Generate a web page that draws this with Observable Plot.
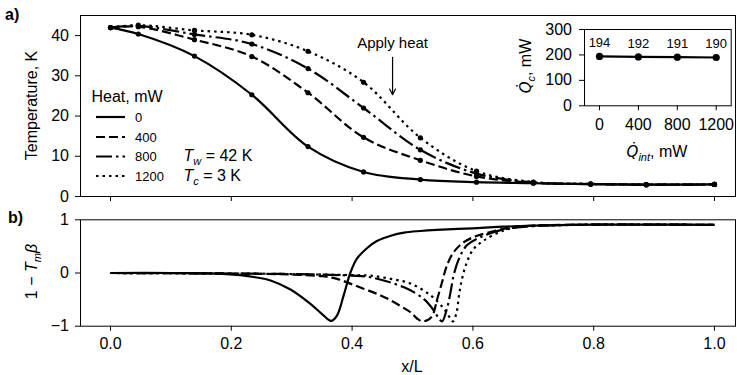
<!DOCTYPE html>
<html><head><meta charset="utf-8">
<script src="https://cdn.jsdelivr.net/npm/d3@7"></script>
<script src="https://cdn.jsdelivr.net/npm/@observablehq/plot@0.6"></script>
<style>
body{margin:0;background:#fff;}
#chart{position:relative;width:737px;height:375px;overflow:hidden;background:#fff;font-family:"Liberation Sans",Arial,sans-serif;}
#chart svg{position:absolute;overflow:visible;}
</style></head><body><div id="chart"></div>
<script>
// ---------- data ----------
const heatLevels = [0, 400, 800, 1200];
const heatLabels = ["0", "400", "800", "1200"];

// panel a) temperature profiles (marker positions)
const xPos = [0, 0.046, 0.139, 0.234, 0.327, 0.419, 0.513, 0.606, 0.700, 0.795, 0.887, 1.0];
const temp0    = [42, 40.4, 34.9, 25.3, 12.4, 6.1, 4.2, 3.55, 3.3, 3.05, 2.95, 3.0];
const temp400  = [42, 42.2, 39.0, 34.8, 25.8, 14.7, 9.0, 5.0, 3.4, 3.1, 2.95, 3.0];
const temp800  = [42, 42.4, 40.3, 37.9, 31.8, 22.0, 11.6, 5.7, 3.5, 3.1, 2.95, 3.0];
const temp1200 = [42, 42.6, 41.3, 40.2, 36.1, 28.4, 14.6, 6.3, 3.6, 3.15, 2.95, 3.0];

// panel b) 1 - Tm*beta
const b0x = [0, 0.1, 0.18, 0.215, 0.24, 0.265, 0.298, 0.331, 0.353, 0.365, 0.375, 0.386, 0.397, 0.408, 0.425, 0.441, 0.464, 0.486, 0.513, 0.54, 0.6, 0.65, 0.7, 0.8, 0.9, 1.0];
const b0v = [0, 0, -0.01, -0.04, -0.08, -0.14, -0.31, -0.58, -0.80, -0.90, -0.80, -0.42, 0.0, 0.27, 0.47, 0.60, 0.70, 0.76, 0.79, 0.81, 0.84, 0.87, 0.89, 0.91, 0.91, 0.905];
const b400x = [0, 0.2, 0.3, 0.35, 0.375, 0.397, 0.42, 0.441, 0.46, 0.48, 0.497, 0.508, 0.516, 0.526, 0.533, 0.541, 0.549, 0.557, 0.568, 0.585, 0.607, 0.64, 0.662, 0.7, 0.8, 0.9, 1.0];
const b400v = [0, -0.01, -0.03, -0.06, -0.11, -0.2, -0.3, -0.39, -0.49, -0.62, -0.74, -0.86, -0.91, -0.88, -0.8, -0.49, -0.17, 0.14, 0.39, 0.58, 0.70, 0.80, 0.86, 0.89, 0.91, 0.91, 0.905];
const b800x = [0, 0.2, 0.3, 0.4, 0.43, 0.486, 0.519, 0.535, 0.544, 0.549, 0.557, 0.563, 0.568, 0.577, 0.59, 0.612, 0.651, 0.7, 0.8, 0.9, 1.0];
const b800v = [0, -0.01, -0.02, -0.05, -0.08, -0.27, -0.49, -0.70, -0.86, -0.91, -0.67, -0.36, -0.05, 0.27, 0.52, 0.67, 0.82, 0.88, 0.91, 0.91, 0.905];
const b1200x = [0, 0.2, 0.3, 0.4, 0.43, 0.464, 0.497, 0.53, 0.552, 0.563, 0.567, 0.573, 0.577, 0.582, 0.59, 0.601, 0.618, 0.651, 0.68, 0.75, 0.85, 1.0];
const b1200v = [0, -0.01, -0.02, -0.04, -0.05, -0.11, -0.2, -0.42, -0.67, -0.86, -0.91, -0.74, -0.42, -0.11, 0.20, 0.45, 0.61, 0.80, 0.87, 0.90, 0.91, 0.905];

// inset
const qInt = [0, 400, 800, 1200];
const qC = [194, 192, 191, 190];

// ticks
const xTicks = [0, 0.2, 0.4, 0.6, 0.8, 1.0];
const tTicks = [0, 10, 20, 30, 40];
const bTicks = [-1, 0, 1];
const qcTicks = [0, 100, 200, 300];
const qiTicks = [0, 400, 800, 1200];

// annotation
const annot = [{x: 0.467, yText: 38.0, y1: 34.6, y2: 25.3, label: "Apply heat"}];

// ---------- styles ----------
const FONT = '"Liberation Sans", Arial, sans-serif';
const dashes = [null, "9,4", "16,4,2.5,4", "2.5,4"];
const LW = 2.2;

const tempSeries = [temp0, temp400, temp800, temp1200];
const bSeries = [[b0x, b0v], [b400x, b400v], [b800x, b800v], [b1200x, b1200v]];

const topData = heatLevels.map((h, i) => xPos.map((x, j) => ({x, T: tempSeries[i][j], heat: h})));
const botData = heatLevels.map((h, i) => bSeries[i][0].map((x, j) => ({x, v: bSeries[i][1][j], heat: h})));
const insetData = qInt.map((q, i) => ({q, c: qC[i]}));

const xDomain = [-0.0497, 1.0348];
const chart = document.getElementById("chart");

// ---------- panel a ----------
const topPlot = Plot.plot({
  width: 737, height: 205,
  marginLeft: 80, marginRight: 2, marginTop: 15, marginBottom: 9,
  style: {fontFamily: FONT, fontSize: "16px", color: "#000", background: "transparent", overflow: "visible"},
  x: {domain: xDomain, ticks: xTicks, tickFormat: () => "", tickSize: 5, label: null},
  y: {domain: [0, 45], ticks: tTicks, tickSize: 5, tickPadding: 6.5, label: null},
  marks: [
    ...topData.map((d, i) => Plot.line(d, {x: "x", y: "T", curve: "catmull-rom", stroke: "black", strokeWidth: LW, strokeDasharray: dashes[i] || undefined, strokeLinecap: "butt"})),
    ...topData.map(d => Plot.dot(d, {x: "x", y: "T", r: 2.6, fill: "black", stroke: "none"})),
    Plot.arrow(annot, {x: "x", y1: "y1", y2: "y2", stroke: "black", strokeWidth: 1.2, headLength: 8, headAngle: 55}),
    Plot.text(annot, {x: "x", y: "yText", text: "label", fontSize: 15, fill: "black"}),
    Plot.frame({stroke: "black", strokeWidth: 1})
  ]
});
topPlot.style.left = "0px"; topPlot.style.top = "0px";
chart.appendChild(topPlot);

// ---------- panel b ----------
const botPlot = Plot.plot({
  width: 737, height: 170,
  marginLeft: 80, marginRight: 2, marginTop: 14.3, marginBottom: 49.3,
  style: {fontFamily: FONT, fontSize: "16px", color: "#000", background: "transparent", overflow: "visible"},
  x: {domain: xDomain, ticks: xTicks, tickFormat: d => d.toFixed(1), tickSize: 5, tickPadding: 6.5, label: null},
  y: {domain: [-1, 1], ticks: bTicks, tickFormat: d => d < 0 ? "\u2212" + Math.abs(d) : String(d), tickSize: 5, tickPadding: 6.5, label: null},
  marks: [
    ...botData.map((d, i) => Plot.line(d, {x: "x", y: "v", curve: "catmull-rom", stroke: "black", strokeWidth: LW, strokeDasharray: dashes[i] || undefined, strokeLinecap: "butt"})),
    Plot.frame({stroke: "black", strokeWidth: 1})
  ]
});
botPlot.style.left = "0px"; botPlot.style.top = "205px";
chart.appendChild(botPlot);

// ---------- inset ----------
const insetPlot = Plot.plot({
  width: 215, height: 170,
  marginLeft: 64, marginRight: 4.3, marginTop: 29, marginBottom: 64.7,
  style: {fontFamily: FONT, fontSize: "16px", color: "#000", background: "transparent", overflow: "visible"},
  x: {domain: [-154, 1354], ticks: qiTicks, tickSize: 5, tickPadding: 8, tickFormat: d => String(d), label: null},
  y: {domain: [0, 300], ticks: qcTicks, tickSize: 5, tickPadding: 7.5, tickFormat: d => String(d), label: null},
  marks: [
    Plot.line(insetData, {x: "q", y: "c", stroke: "black", strokeWidth: LW}),
    Plot.dot(insetData, {x: "q", y: "c", r: 3.6, fill: "black", stroke: "none"}),
    Plot.text(insetData, {x: "q", y: "c", text: d => String(d.c), dy: -13.5, fontSize: 13, fill: "black"}),
    Plot.frame({stroke: "black", strokeWidth: 1})
  ]
});
insetPlot.style.left = "520px"; insetPlot.style.top = "0px";
chart.appendChild(insetPlot);

// ---------- texts & legend ----------
function addText(svg, x, y, parts, opts = {}) {
  const t = d3.select(svg).append("text")
    .attr("x", x).attr("y", y)
    .attr("fill", "black")
    .attr("font-family", FONT)
    .attr("font-size", opts.size || 16)
    .attr("text-anchor", opts.anchor || "start");
  if (opts.weight) t.attr("font-weight", opts.weight);
  if (opts.rotate) t.attr("transform", `rotate(${opts.rotate},${x},${y})`);
  for (const p of parts) {
    const s = t.append("tspan").text(p.t);
    if (p.i) s.attr("font-style", "italic");
    if (p.sub) s.attr("font-size", p.sub);
    if (p.dy) s.attr("dy", p.dy);
    if (p.dx) s.attr("dx", p.dx);
    if (p.font) s.attr("font-family", p.font);
  }
  return t;
}

// Q with a combining dot above, then subscript
const qdot = (sub) => [
  {t: "Q\u0307", i: true, font: '"DejaVu Sans", sans-serif', sub: 15},
  {t: sub, i: true, sub: 11, dy: 4},
  {t: ", mW", dy: -4}
];

// panel a texts
addText(topPlot, 5, 20, [{t: "a)"}], {weight: "bold"});
addText(topPlot, 37, 105.5, [{t: "Temperature, K"}], {anchor: "middle", rotate: -90});
addText(topPlot, 91.5, 101.5, [{t: "Heat, mW"}]);
const legY = [117, 137, 156.5, 176];
const tg = d3.select(topPlot).append("g");
heatLabels.forEach((lab, i) => {
  const ln = tg.append("line").attr("x1", 96).attr("x2", 125).attr("y1", legY[i]).attr("y2", legY[i])
    .attr("stroke", "black").attr("stroke-width", LW).attr("stroke-linecap", "butt");
  if (dashes[i]) ln.attr("stroke-dasharray", dashes[i]);
  addText(topPlot, 135, legY[i] + 4.7, [{t: lab}], {size: 13});
});
addText(topPlot, 183.5, 161, [{t: "T", i: true}, {t: "w", i: true, sub: 11, dy: 4}, {t: " = 42 K", dy: -4}]);
addText(topPlot, 183.5, 181, [{t: "T", i: true}, {t: "c", i: true, sub: 11, dy: 4}, {t: " = 3 K", dy: -4}]);

// panel b texts
addText(botPlot, 8, 18, [{t: "b)"}], {weight: "bold"});
addText(botPlot, 37, 66.5, [{t: "1 \u2212 "}, {t: "T", i: true}, {t: "m", i: true, sub: 11, dy: 4}, {t: "\u03B2", i: true, dy: -4}], {anchor: "middle", rotate: -90});
addText(botPlot, 412, 166.5, [{t: "x/L"}], {anchor: "middle"});

// inset texts
addText(insetPlot, 11, 66, qdot("c"), {anchor: "middle", rotate: -90});
addText(insetPlot, 137, 157, qdot("int"), {anchor: "middle"});
</script></body></html>
